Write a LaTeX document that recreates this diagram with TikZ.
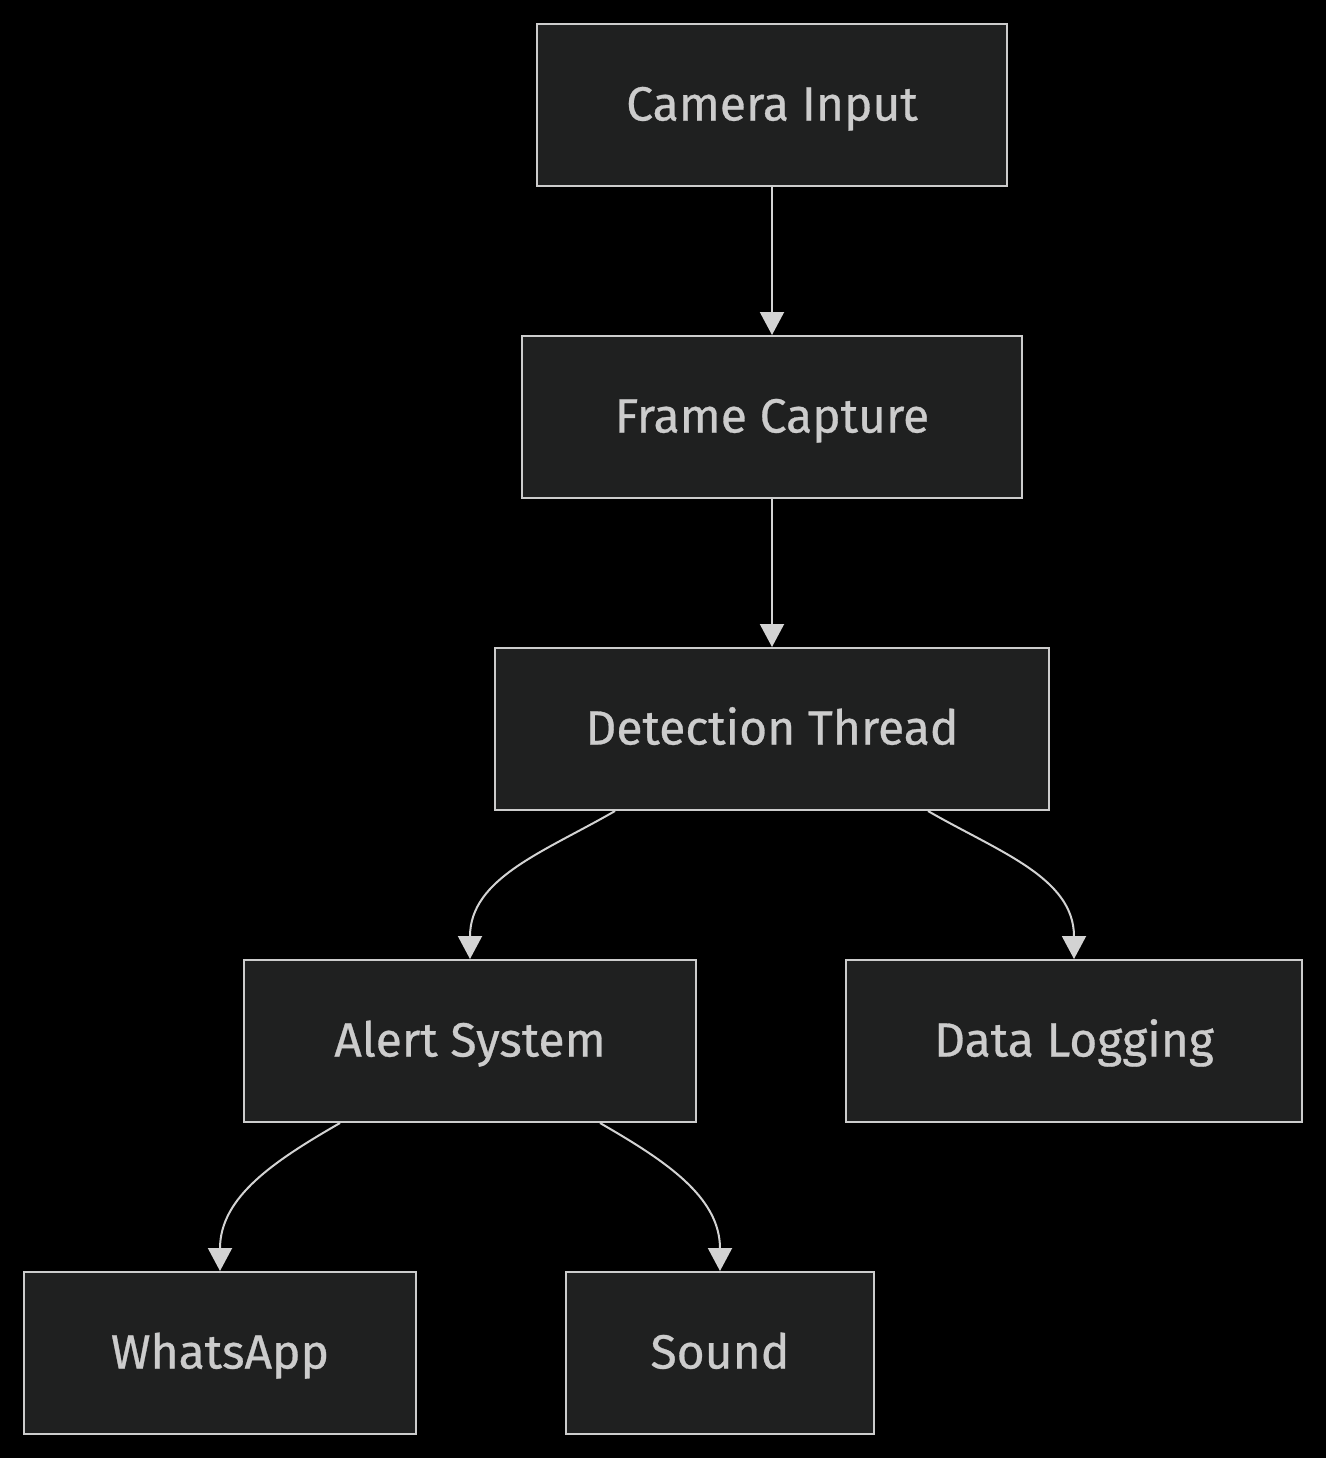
\documentclass[tikz,border=0pt]{standalone}
\usepackage{fontspec}
\setmainfont{Fira Sans}[FakeBold=0.6]
\usepackage{xcolor}
\usetikzlibrary{arrows.meta,positioning}

\definecolor{boxfill}{HTML}{1F2020}
\definecolor{boxline}{HTML}{CCCCCC}
\definecolor{boxtext}{HTML}{CCCCCC}
\definecolor{edgeline}{HTML}{D3D3D3}

\begin{document}
\begin{tikzpicture}[
    x=0.5pt, y=-0.5pt,
    node distance=74pt,
    block/.style={rectangle, draw=boxline, fill=boxfill, line width=1pt, text=boxtext, font=\fontsize{24}{29}\selectfont, minimum height=81pt, inner sep=0pt, text height=16pt, text depth=0.5pt},
    line/.style={draw=edgeline, line width=1pt, -{Triangle[length=11.5pt,width=12pt]}}
]

\fill [black] (0,0) rectangle (1326,1458);
\useasboundingbox (0,0) rectangle (1326,1458);

\node [block, minimum width=235pt] (camera) at (772,105) {Camera Input};
\node [block, minimum width=250pt, below=of camera] (frame) {Frame Capture};
\node [block, minimum width=277pt, below=of frame] (detect) {Detection Thread};
\node [block, minimum width=226pt, below=of detect, xshift=-151pt] (alert) {Alert System};
\node [block, minimum width=228pt, below=of detect, xshift=151pt] (logging) {Data Logging};
\node [block, minimum width=196pt, below=of alert, xshift=-125pt] (whatsapp) {WhatsApp};
\node [block, minimum width=154pt, below=of alert, xshift=125pt] (sound) {Sound};

\path [line] (camera) -- (frame);
\path [line] (frame) -- (detect);
\path [line] ([xshift=-78.5pt]detect.south) to [out=-150, in=90] (alert.north);
\path [line] ([xshift=78pt]detect.south) to [out=-30, in=90] (logging.north);
\path [line] ([xshift=-65pt]alert.south) to [out=-150, in=90] (whatsapp.north);
\path [line] ([xshift=65pt]alert.south) to [out=-30, in=90] (sound.north);

\end{tikzpicture}
\end{document}
